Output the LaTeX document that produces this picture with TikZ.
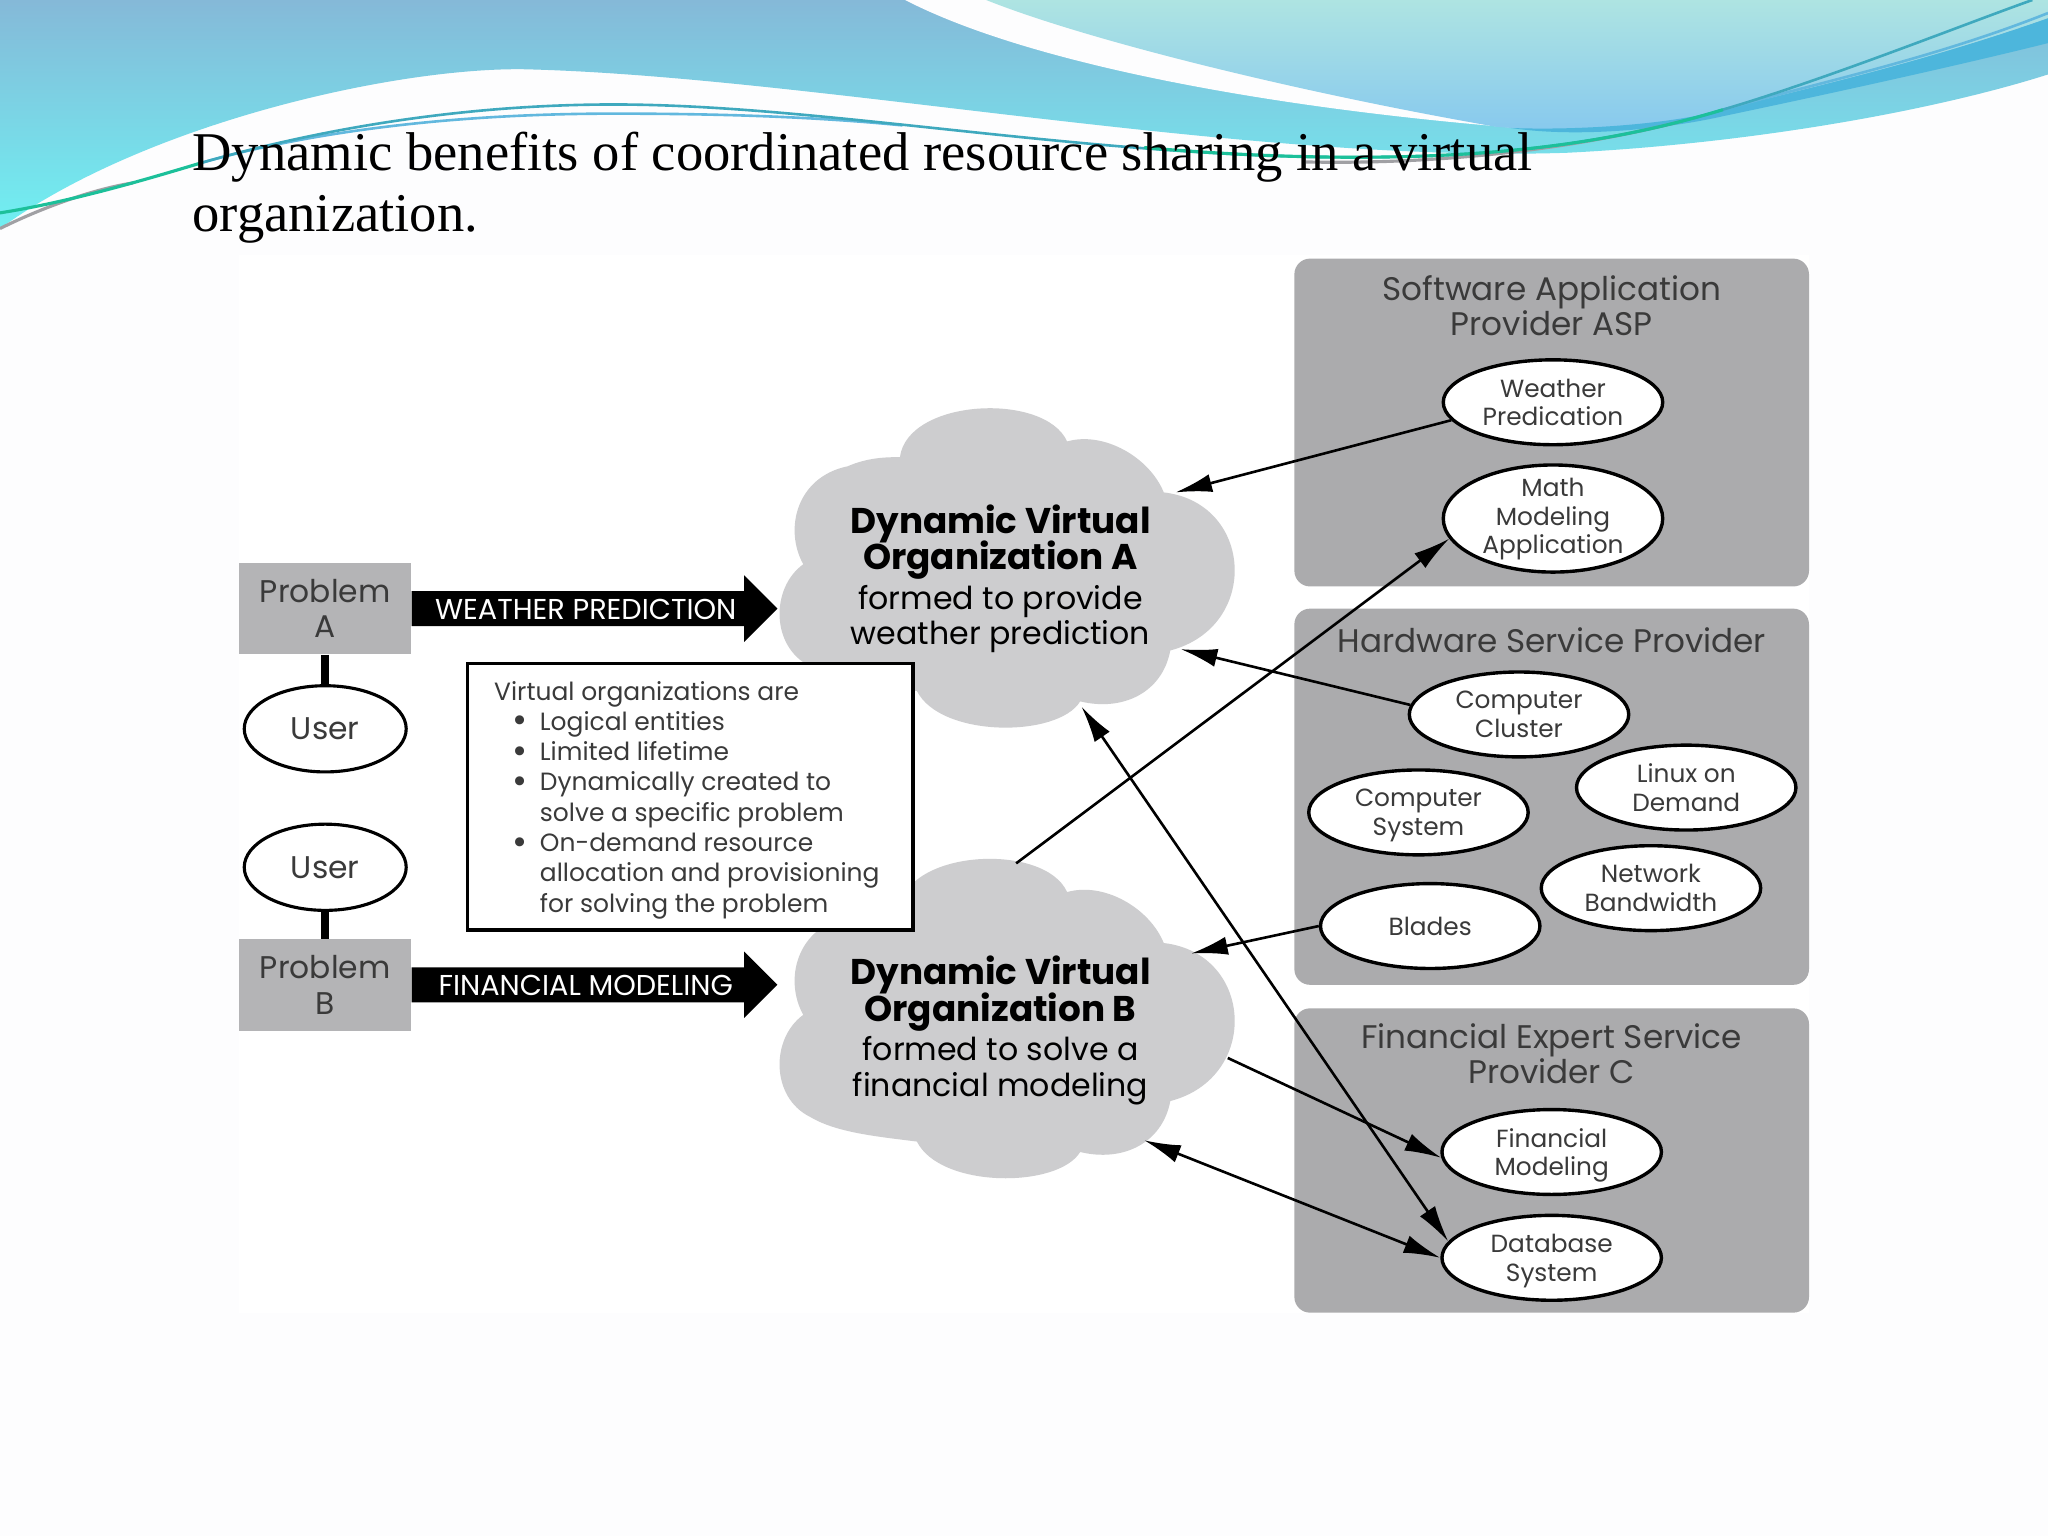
\documentclass[tikz,border=0pt]{standalone}
\usepackage{fontspec}
\setmainfont{Poppins}
\newfontfamily\titlefont{Liberation Serif}
\usetikzlibrary{arrows.meta,shapes.arrows,shapes.geometric}
\definecolor{pagebg}{HTML}{FDFDFE}
\definecolor{bandtop}{HTML}{85B9D8}
\definecolor{bandlow}{HTML}{70F0F2}
\definecolor{lighttop}{HTML}{AEE4E2}
\definecolor{lightlow}{HTML}{86C8EE}
\definecolor{stripeblue}{HTML}{4DB6DC}
\definecolor{lineteal}{HTML}{3FA9BE}
\definecolor{lineblue}{HTML}{62B8DE}
\definecolor{linegreen}{HTML}{1CC09A}
\definecolor{linegray}{HTML}{A0A0A4}
\definecolor{panelgray}{HTML}{ABABAD}
\definecolor{cloudgray}{HTML}{CDCDCF}
\definecolor{probgray}{HTML}{B4B4B6}
\definecolor{inkgray}{HTML}{3A3A3A}
\newcommand{\cloudoutline}[1]{\fill[cloudgray,shift={(0,#1)}] (689,350) .. controls (695,305) and (800,300) .. (817,338) .. controls (845,330) and (880,350) .. (891,377) .. controls (960,385) and (965,480) .. (896,498) .. controls (890,530) and (860,545) .. (827,537) .. controls (810,565) and (720,565) .. (702,529) .. controls (670,525) and (640,522) .. (620,510) .. controls (590,495) and (590,450) .. (615,432) .. controls (600,405) and (610,365) .. (649,357) .. controls (665,350) and (680,350) .. (689,350) -- cycle;}
\newcommand{\voitem}{\hspace*{7.5pt}\makebox[4.8pt]{\raisebox{-1pt}{\fontsize{14}{11.6}\selectfont\textbullet}}\hspace{5.2pt}}
\newcommand{\vobold}{\bfseries\fontsize{13.7}{13.6}\selectfont}
\tikzset{
  panel/.style={fill=panelgray,rounded corners=6pt},
  paneltitle/.style={align=center,font=\fontsize{12.5}{13.5}\selectfont,text=inkgray},
  svcoval/.style={ellipse,draw=black,line width=1.3pt,fill=white,minimum width=84pt,minimum height=32.5pt,inner sep=0pt,align=center,text depth=0pt,font=\fontsize{9.5}{11}\selectfont,text=inkgray},
  useroval/.style={ellipse,draw=black,line width=1.2pt,fill=white,minimum width=62pt,minimum height=33pt,inner sep=0pt,font=\fontsize{12}{13}\selectfont,text=inkgray},
  probbox/.style={fill=probgray,minimum width=66pt,minimum height=35pt,inner sep=0pt,align=center,font=\fontsize{12}{13.5}\selectfont,text=inkgray},
  blockarrow/.style={single arrow,fill=black,text=white,minimum height=140pt,text height=10.5pt,text depth=2.5pt,inner sep=0pt,single arrow head extend=6pt,font=\fontsize{11}{12}\selectfont},
  vouse/.style={align=center,font=\fontsize{12.1}{13.6}\selectfont,text=black,execute at begin node={\lineskiplimit=-6pt\relax}},
  linktip/.style={line width=1pt,-{Latex[length=14pt,width=7pt]}},
  twotip/.style={line width=1pt,{Latex[length=14pt,width=7pt]}-{Latex[length=14pt,width=7pt]}}
}
\begin{document}
\begin{tikzpicture}[x=0.5pt,y=-0.5pt]
\useasboundingbox (0,0) rectangle (1568,1176);
\fill[pagebg] (0,0) rectangle (1568,1176);
\shade[top color=bandtop,bottom color=bandlow] (0,0) -- (1568,0) -- (1568,57) .. controls (1480,85) and (1340,110) .. (1199,117) .. controls (950,125) and (620,58) .. (400,53) .. controls (300,52) and (110,95) .. (0,175) -- cycle;
\fill[pagebg] (693,0) .. controls (780,45) and (950,80) .. (1150,97) -- (1160,98) -- (1160,0) -- cycle;
\shade[top color=lighttop,bottom color=lightlow] (755,0) .. controls (830,30) and (990,70) .. (1145,97) .. controls (1210,103) and (1280,95) .. (1319,84) .. controls (1400,64) and (1480,45) .. (1568,14) -- (1568,0) -- cycle;
\fill[stripeblue] (1157,98) .. controls (1210,100) and (1280,95) .. (1319,84) .. controls (1400,64) and (1480,45) .. (1568,14) -- (1568,33) .. controls (1500,50) and (1400,72) .. (1319,89) .. controls (1280,98) and (1210,106) .. (1157,98) -- cycle;
\draw[linegray,line width=1.2pt] (0,175) .. controls (30,160) and (70,145) .. (102,140);
\draw[linegray,line width=1.2pt] (1000,124) .. controls (1100,126) and (1200,115) .. (1287,93);
\draw[lineblue,line width=1pt] (153,125) .. controls (240,100) and (350,87) .. (470,87) .. controls (560,87) and (630,90) .. (691,96);
\draw[lineblue,line width=1pt] (1319,84) .. controls (1389,64) and (1480,45) .. (1568,10);
\draw[lineteal,line width=1pt] (153,125) .. controls (240,100) and (350,80) .. (470,80) .. controls (640,80) and (850,125) .. (1072,120) .. controls (1160,118) and (1240,108) .. (1319,84) .. controls (1400,60) and (1500,20) .. (1556,0);
\draw[linegreen,line width=1.2pt] (0,163) .. controls (50,155) and (100,141) .. (153,125);
\draw[linegreen,line width=1.2pt] (876,113) .. controls (940,118.5) and (1005,121.5) .. (1072,120) .. controls (1160,118) and (1240,108) .. (1319,84);
\node[anchor=north west,align=left,font=\titlefont\fontsize{20.9}{23.3}\selectfont,inner sep=0pt] (slidetitle) at (147,101) {Dynamic benefits of coordinated resource sharing in a virtual\\organization.};
\fill[white] (183,195) rectangle (1385,1005);
\fill[panel] (991,198) rectangle (1385,449);
\fill[panel] (991,466) rectangle (1385,754);
\fill[panel] (991,772) rectangle (1385,1005);
\node[paneltitle] (asptitle) at (1188,234) {Software Application\\Provider ASP};
\node[paneltitle] (hwtitle) at (1188,490) {Hardware Service Provider};
\node[paneltitle] (fintitle) at (1188,807) {Financial Expert Service\\Provider C};
\cloudoutline{0}
\cloudoutline{345}
\node[vouse] (voA) at (766,443) {{\vobold Dynamic Virtual}\\[0.4pt]{\vobold Organization A}\\[1.5pt]formed to provide\\weather prediction};
\node[vouse] (voB) at (766,789) {{\vobold Dynamic Virtual}\\[0.4pt]{\vobold Organization B}\\[1.5pt]formed to solve a\\financial modeling};
\node[probbox] (probA) at (249,466) {Problem\\A};
\node[probbox] (probB) at (249,754) {Problem\\B};
\node[useroval] (userA) at (249,558) {User};
\node[useroval] (userB) at (249,664) {User};
\draw[line width=3pt] (probA) -- (userA);
\draw[line width=3pt] (probB) -- (userB);
\node[blockarrow] (arrowA) at (448.5,466) {WEATHER PREDICTION};
\node[blockarrow] (arrowB) at (448.5,754) {FINANCIAL MODELING};
\node[draw=black,line width=1.3pt,fill=white,minimum width=170.5pt,minimum height=102pt,inner sep=0pt] (vobox) at (528.5,610) {};
\node[anchor=north west,align=left,inner sep=0pt,font=\fontsize{9.55}{11.6}\selectfont,text=inkgray] (votext) at (378,521) {Virtual organizations are\\
\voitem Logical entities\\
\voitem Limited lifetime\\
\voitem Dynamically created to\\
\hspace*{17.5pt}solve a specific problem\\
\voitem On-demand resource\\
\hspace*{17.5pt}allocation and provisioning\\
\hspace*{17.5pt}for solving the problem};
\node[svcoval] (weather) at (1189,308) {Weather\\Predication};
\node[svcoval,minimum height=41pt,inner sep=-2.5pt,text depth=2pt] (mathapp) at (1189,397) {Math\\Modeling\\Application};
\node[svcoval] (cluster) at (1163,547) {Computer\\Cluster};
\node[svcoval] (linux) at (1291,603) {Linux on\\Demand};
\node[svcoval] (compsys) at (1086,622) {Computer\\System};
\node[svcoval] (network) at (1264,680) {Network\\Bandwidth};
\node[svcoval] (blades) at (1095,709) {Blades};
\node[svcoval] (finmodel) at (1188,882) {Financial\\Modeling};
\node[svcoval] (database) at (1188,963) {Database\\System};
\coordinate (endA1) at (900,377);
\coordinate (endA2) at (904,497);
\coordinate (endA3) at (828,541);
\coordinate (startB1) at (778,661);
\coordinate (endB1) at (912,730);
\coordinate (startB2) at (940,810);
\coordinate (endB3) at (876,873);
\draw[linktip] (weather.190) -- (endA1);
\draw[linktip] (startB1) -- (mathapp.191);
\draw[linktip] (cluster.175) -- (endA2);
\draw[linktip] (blades.180) -- (endB1);
\draw[linktip] (startB2) -- (finmodel.183);
\draw[twotip] (endB3) -- (database.180);
\draw[twotip] (endA3) -- (database.171);
\end{tikzpicture}
\end{document}
